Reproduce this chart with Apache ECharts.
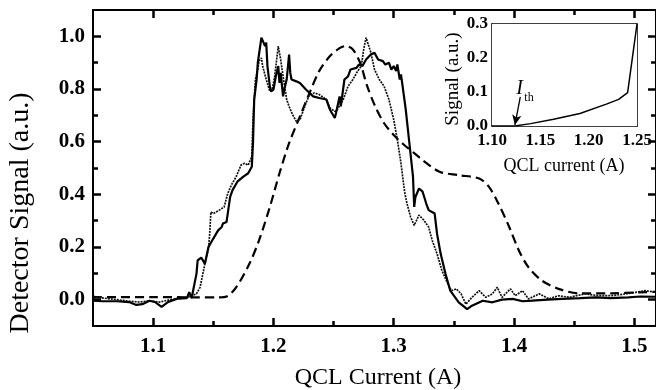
<!DOCTYPE html>
<html>
<head>
<meta charset="utf-8">
<script src="https://cdn.jsdelivr.net/npm/echarts@6/dist/echarts.min.js"></script>
<style>
  html, body { margin: 0; padding: 0; background: #fff; }
  #chart { width: 656px; height: 390px; }
</style>
</head>
<body>
<div id="chart"></div>
<script>
// Detector signal vs. QCL drive current, three sweeps
const solidCurrent = [1.050, 1.058, 1.070, 1.080, 1.086, 1.091, 1.097, 1.102, 1.107, 1.112, 1.120, 1.128, 1.130, 1.132,
  1.136, 1.137, 1.140, 1.143, 1.146, 1.150, 1.154, 1.157, 1.158, 1.161, 1.162, 1.164, 1.166, 1.170, 1.175, 1.179,
  1.182, 1.183, 1.184, 1.186, 1.187, 1.190, 1.191, 1.193, 1.194, 1.195, 1.197, 1.198, 1.200, 1.202, 1.204, 1.205,
  1.206, 1.208, 1.209, 1.211, 1.213, 1.214, 1.215, 1.219, 1.222, 1.227, 1.230, 1.233, 1.238, 1.244, 1.247, 1.251,
  1.252, 1.255, 1.256, 1.259, 1.262, 1.264, 1.269, 1.271, 1.274, 1.277, 1.281, 1.284, 1.287, 1.291, 1.293, 1.296,
  1.298, 1.300, 1.302, 1.303, 1.305, 1.306, 1.307, 1.310, 1.313, 1.316, 1.317, 1.318, 1.321, 1.324, 1.327, 1.329,
  1.334, 1.336, 1.339, 1.343, 1.347, 1.354, 1.361, 1.365, 1.374, 1.382, 1.390, 1.399, 1.407, 1.415, 1.428, 1.440,
  1.455, 1.468, 1.480, 1.495, 1.505, 1.518];
const solidSignal = [-0.004, -0.006, -0.006, -0.009, -0.020, -0.017, -0.004, -0.010, -0.027, -0.010, 0.004, 0.006, 0.028, 0.006,
  0.098, 0.149, 0.160, 0.136, 0.200, 0.232, 0.263, 0.276, 0.289, 0.295, 0.327, 0.390, 0.416, 0.448, 0.467, 0.480,
  0.505, 0.594, 0.760, 0.836, 0.900, 0.995, 1.000, 0.963, 0.976, 0.887, 0.810, 0.791, 0.798, 0.848, 0.887, 0.823,
  0.861, 0.772, 0.798, 0.836, 0.931, 0.861, 0.836, 0.829, 0.823, 0.798, 0.785, 0.772, 0.766, 0.760, 0.721, 0.690,
  0.709, 0.772, 0.734, 0.836, 0.848, 0.874, 0.880, 0.893, 0.887, 0.912, 0.931, 0.938, 0.912, 0.906, 0.893, 0.900,
  0.874, 0.887, 0.868, 0.893, 0.836, 0.855, 0.823, 0.721, 0.594, 0.467, 0.352, 0.390, 0.422, 0.410, 0.365, 0.340,
  0.327, 0.250, 0.174, 0.098, 0.034, -0.010, -0.036, -0.023, -0.004, -0.010, 0.000, 0.003, -0.006, -0.004, 0.000, 0.003,
  0.006, 0.009, 0.006, 0.009, 0.012, 0.011];

const dottedCurrent = [1.050, 1.0585, 1.0697, 1.0807, 1.089, 1.097, 1.1056, 1.114, 1.122, 1.130, 1.136, 1.139, 1.143,
  1.146, 1.147, 1.148, 1.150, 1.155, 1.159, 1.162, 1.165, 1.169, 1.173, 1.176, 1.179, 1.182, 1.183, 1.185, 1.187,
  1.188, 1.190, 1.191, 1.194, 1.197, 1.199, 1.201, 1.204, 1.205, 1.206, 1.208, 1.211, 1.213, 1.216, 1.219, 1.222,
  1.226, 1.230, 1.234, 1.238, 1.244, 1.247, 1.251, 1.253, 1.258, 1.262, 1.266, 1.270, 1.273, 1.275, 1.277, 1.278,
  1.281, 1.284, 1.288, 1.292, 1.296, 1.300, 1.303, 1.306, 1.309, 1.311, 1.314, 1.317, 1.321, 1.325, 1.329, 1.332,
  1.336, 1.340, 1.345, 1.348, 1.352, 1.356, 1.360, 1.365, 1.371, 1.3765, 1.382, 1.386, 1.390, 1.397, 1.401, 1.407,
  1.412, 1.421, 1.429, 1.437, 1.446, 1.459, 1.470, 1.481, 1.493, 1.501, 1.509, 1.518];
const dottedSignal = [0.013, 0.006, 0.000, -0.006, -0.009, -0.004, -0.009, 0.000, 0.004, 0.011, 0.022, 0.047, 0.136,
  0.194, 0.250, 0.333, 0.327, 0.340, 0.352, 0.403, 0.435, 0.467, 0.511, 0.518, 0.511, 0.543, 0.683, 0.836, 0.874,
  0.906, 0.918, 0.887, 0.836, 0.791, 0.798, 0.848, 0.963, 0.957, 0.912, 0.848, 0.760, 0.734, 0.702, 0.677, 0.683,
  0.734, 0.779, 0.785, 0.779, 0.760, 0.728, 0.715, 0.721, 0.760, 0.810, 0.836, 0.868, 0.887, 0.950, 0.995, 0.989,
  0.938, 0.874, 0.836, 0.810, 0.760, 0.683, 0.607, 0.518, 0.410, 0.365, 0.314, 0.282, 0.321, 0.302, 0.276, 0.225,
  0.174, 0.111, 0.060, 0.034, 0.041, 0.022, -0.017, 0.009, 0.034, 0.009, 0.022, 0.047, 0.009, 0.041, 0.015, 0.034,
  0.003, 0.022, 0.003, 0.015, 0.009, 0.022, 0.015, 0.015, 0.022, 0.028, 0.034, 0.028];

const dashedCurrent = [1.050, 1.100, 1.136, 1.155, 1.161, 1.169, 1.180, 1.188, 1.197, 1.205, 1.213, 1.222, 1.230,
  1.238, 1.247, 1.255, 1.260, 1.266, 1.272, 1.278, 1.285, 1.292, 1.300, 1.308, 1.316, 1.324, 1.338, 1.354, 1.371,
  1.379, 1.387, 1.396, 1.404, 1.412, 1.423, 1.437, 1.454, 1.481, 1.504, 1.518];
const dashedSignal = [0.010, 0.010, 0.009, 0.009, 0.012, 0.047, 0.136, 0.225, 0.352, 0.480, 0.594, 0.696, 0.785,
  0.868, 0.925, 0.955, 0.963, 0.950, 0.900, 0.810, 0.730, 0.670, 0.625, 0.590, 0.560, 0.530, 0.486, 0.473, 0.460,
  0.429, 0.365, 0.276, 0.187, 0.123, 0.073, 0.041, 0.024, 0.024, 0.028, 0.030];

// Inset: light-current curve near threshold
const insetCurrent = [1.100, 1.1234, 1.140, 1.1637, 1.191, 1.219, 1.231, 1.2403, 1.250];
const insetSignal = [0.000, 0.000, 0.007, 0.0196, 0.037, 0.065, 0.0784, 0.098, 0.300];
const thresholdCurrent = 1.1237;

// Tick positions and labels
const xMajorTicks = [1.1, 1.2, 1.3, 1.4, 1.5];
const xMinorTicks = [1.15, 1.25, 1.35, 1.45];
const yMajorTicks = [0.0, 0.2, 0.4, 0.6, 0.8, 1.0];
const yMinorTicks = [0.1, 0.3, 0.5, 0.7, 0.9];
const insetXTicks = [1.10, 1.15, 1.20, 1.25];
const insetYTicks = [0.0, 0.1, 0.2, 0.3];

const FONT = 'Liberation Serif';
const X_RANGE = [1.05, 1.518];
const Y_RANGE = [-0.1, 1.1];
const INSET_X = [1.10, 1.25];
const INSET_Y = [0, 0.3];

const pairs = (xs, ys) => xs.map((x, i) => [x, ys[i]]);

// Value axis with inward ticks at explicit positions; a second axis on the
// same side (line hidden) carries the shorter minor ticks.
function valueAxis(opts) {
  return {
    type: 'value',
    gridIndex: opts.grid,
    position: opts.position,
    min: opts.range[0],
    max: opts.range[1],
    splitLine: { show: false },
    axisLine: {
      show: opts.line !== false, onZero: false,
      lineStyle: { color: '#000', width: opts.lineWidth || 2 }
    },
    axisTick: {
      show: opts.ticks.length > 0, inside: true, length: opts.tickLen,
      lineStyle: { color: '#000', width: opts.tickWidth || 2.5 },
      customValues: opts.ticks
    },
    axisLabel: opts.labels ? {
      show: true, customValues: opts.labels,
      formatter: v => v.toFixed(opts.digits),
      fontFamily: FONT, fontSize: opts.fontSize, fontWeight: 'bold', color: '#000', margin: opts.margin
    } : { show: false }
  };
}

const chart = echarts.init(document.getElementById('chart'), null, { renderer: 'canvas' });

const insetStyle = { lineWidth: 1.5, tickWidth: 1.5, tickLen: 4 };

chart.setOption({
  animation: false,
  backgroundColor: '#fff',
  grid: [
    { left: 93, top: 10, width: 565, height: 316 },
    { left: 492, top: 24, width: 145, height: 102, show: true, backgroundColor: '#fff', borderWidth: 0, z: 5 }
  ],
  xAxis: [
    valueAxis({ grid: 0, position: 'bottom', range: X_RANGE, ticks: xMajorTicks, tickLen: 8, labels: xMajorTicks, digits: 1, fontSize: 21, margin: 10 }),
    valueAxis({ grid: 0, position: 'bottom', range: X_RANGE, ticks: xMinorTicks, tickLen: 5, line: false }),
    valueAxis({ grid: 0, position: 'top', range: X_RANGE, ticks: xMajorTicks, tickLen: 8 }),
    valueAxis({ grid: 0, position: 'top', range: X_RANGE, ticks: xMinorTicks, tickLen: 5, line: false }),
    valueAxis(Object.assign({ grid: 1, position: 'bottom', range: INSET_X, ticks: insetXTicks.slice(1, 3), labels: insetXTicks, digits: 2, fontSize: 17, margin: 6 }, insetStyle)),
    valueAxis(Object.assign({ grid: 1, position: 'top', range: INSET_X, ticks: insetXTicks.slice(1, 3) }, insetStyle))
  ],
  yAxis: [
    valueAxis({ grid: 0, position: 'left', range: Y_RANGE, ticks: yMajorTicks, tickLen: 8, labels: yMajorTicks, digits: 1, fontSize: 21, margin: 8 }),
    valueAxis({ grid: 0, position: 'left', range: Y_RANGE, ticks: yMinorTicks, tickLen: 5, line: false }),
    valueAxis({ grid: 0, position: 'right', range: Y_RANGE, ticks: yMajorTicks, tickLen: 8 }),
    valueAxis({ grid: 0, position: 'right', range: Y_RANGE, ticks: yMinorTicks, tickLen: 5, line: false }),
    valueAxis(Object.assign({ grid: 1, position: 'left', range: INSET_Y, ticks: insetYTicks.slice(1, 3), labels: insetYTicks, digits: 1, fontSize: 17, margin: 4 }, insetStyle)),
    valueAxis(Object.assign({ grid: 1, position: 'right', range: INSET_Y, ticks: insetYTicks.slice(1, 3) }, insetStyle))
  ],
  series: [
    {
      name: 'sweep A', type: 'line', xAxisIndex: 0, yAxisIndex: 0,
      data: pairs(dashedCurrent, dashedSignal), showSymbol: false, smooth: 0.3,
      lineStyle: { color: '#000', width: 2.2, type: [9, 5] }, z: 2
    },
    {
      name: 'sweep B', type: 'line', xAxisIndex: 0, yAxisIndex: 0,
      data: pairs(dottedCurrent, dottedSignal), showSymbol: false,
      lineStyle: { color: '#111', width: 1.7, type: [2, 1] }, z: 3
    },
    {
      name: 'sweep C', type: 'line', xAxisIndex: 0, yAxisIndex: 0,
      data: pairs(solidCurrent, solidSignal), showSymbol: false,
      lineStyle: { color: '#000', width: 2.2 }, z: 4
    },
    {
      name: 'threshold curve', type: 'line', xAxisIndex: 4, yAxisIndex: 4,
      data: pairs(insetCurrent, insetSignal), showSymbol: false,
      lineStyle: { color: '#000', width: 1.5 }, z: 6,
      markLine: {
        silent: true, animation: false,
        symbol: ['none', 'arrow'], symbolSize: [7, 10],
        lineStyle: { color: '#000', width: 1.3, type: 'solid' },
        label: { show: false },
        data: [[{ coord: [1.1293, 0.086] }, { coord: [thresholdCurrent, 0.003] }]]
      }
    }
  ]
});

// Axis titles and the threshold label
const ith = chart.convertToPixel({ gridIndex: 1 }, [1.1293, 0.086]);
chart.setOption({
  graphic: [
    {
      type: 'text', x: 21, y: 213, rotation: Math.PI / 2, z: 10,
      style: { text: 'Detector Signal (a.u.)', font: '28px "Liberation Serif"', fill: '#000', textAlign: 'center', textVerticalAlign: 'middle' }
    },
    {
      type: 'text', x: 378, y: 378, z: 10,
      style: { text: 'QCL Current (A)', font: '24px "Liberation Serif"', fill: '#000', textAlign: 'center', textVerticalAlign: 'middle' }
    },
    {
      type: 'text', x: 453, y: 79, rotation: Math.PI / 2, z: 10,
      style: { text: 'Signal (a.u.)', font: '19px "Liberation Serif"', fill: '#000', textAlign: 'center', textVerticalAlign: 'middle' }
    },
    {
      type: 'text', x: 564, y: 166, z: 10,
      style: { text: 'QCL current (A)', font: '18px "Liberation Serif"', fill: '#000', textAlign: 'center', textVerticalAlign: 'middle' }
    },
    {
      type: 'text', x: ith[0] - 4, y: ith[1] + 2, z: 10,
      style: { text: 'I', font: 'italic 20px "Liberation Serif"', fill: '#000', textAlign: 'left', textVerticalAlign: 'bottom' }
    },
    {
      type: 'text', x: ith[0] + 4, y: ith[1] + 7, z: 10,
      style: { text: 'th', font: '12px "Liberation Serif"', fill: '#000', textAlign: 'left', textVerticalAlign: 'bottom' }
    }
  ]
});
</script>
</body>
</html>
